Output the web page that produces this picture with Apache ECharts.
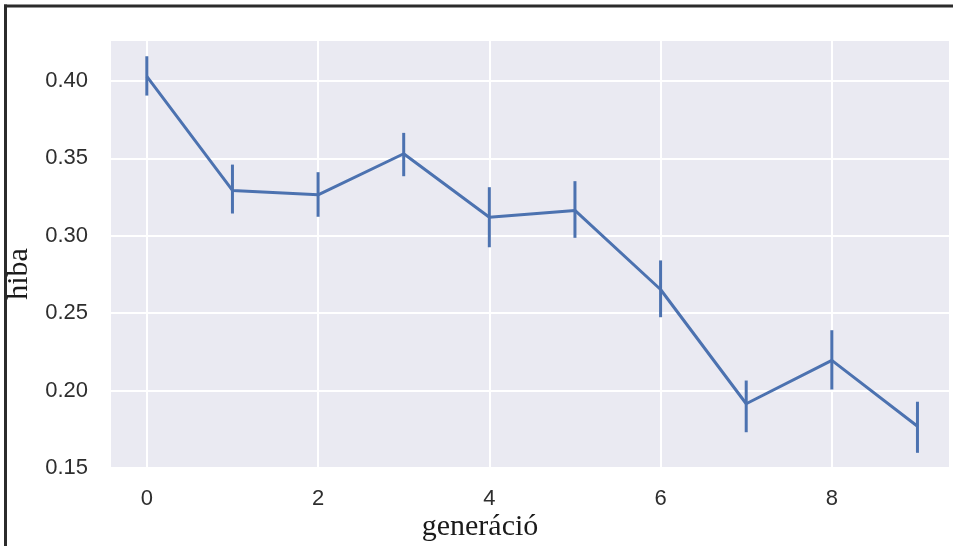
<!DOCTYPE html>
<html>
<head>
<meta charset="utf-8">
<script src="https://cdn.jsdelivr.net/npm/echarts@6/dist/echarts.min.js"></script>
<style>
html,body{margin:0;padding:0;background:#fff;}
#c{width:953px;height:546px;}
</style>
</head>
<body>
<div id="c"></div>
<script>
// Data
var generations = [0, 1, 2, 3, 4, 5, 6, 7, 8, 9];
var meanError  = [0.403, 0.3293, 0.3265, 0.353, 0.312, 0.3164, 0.2653, 0.1915, 0.2195, 0.177];
var lowerError = [0.3906, 0.3144, 0.3123, 0.3385, 0.2926, 0.2987, 0.2474, 0.1731, 0.2007, 0.1598];
var upperError = [0.416, 0.346, 0.3411, 0.3665, 0.3314, 0.3353, 0.2841, 0.2065, 0.2390, 0.1928];
var xAxisTitle = 'generáció';
var yAxisTitle = 'hiba';

var lineData = generations.map(function (g, i) { return [g, meanError[i]]; });
var errData = generations.map(function (g, i) { return [g, lowerError[i], upperError[i]]; });

var blue = '#4c72b0';
var chart = echarts.init(document.getElementById('c'));
chart.setOption({
  animation: false,
  backgroundColor: '#ffffff',
  grid: {
    left: 110, top: 40, right: 3, bottom: 76,
    show: true, backgroundColor: '#eaeaf2', borderWidth: 0,
    containLabel: false
  },
  xAxis: {
    type: 'value',
    min: -0.43, max: 9.38,
    splitNumber: 5,
    axisLine: { show: false },
    axisTick: { show: false },
    splitLine: { show: true, lineStyle: { color: '#ffffff', width: 2 } },
    axisLabel: {
      showMinLabel: false, showMaxLabel: false,
      margin: 18,
      fontFamily: 'Liberation Sans, Arial, sans-serif',
      fontSize: 22, color: '#2e2e2e',
      formatter: function (v) { return String(Math.round(v)); }
    }
  },
  yAxis: {
    type: 'value',
    min: 0.1487, max: 0.4265,
    splitNumber: 5,
    axisLine: { show: false },
    axisTick: { show: false },
    splitLine: { show: true, lineStyle: { color: '#ffffff', width: 2 } },
    axisLabel: {
      showMinLabel: false, showMaxLabel: false,
      margin: 22,
      fontFamily: 'Liberation Sans, Arial, sans-serif',
      fontSize: 22, color: '#2e2e2e',
      formatter: function (v) { return v.toFixed(2); }
    }
  },
  series: [
    {
      type: 'line',
      data: lineData,
      symbol: 'none',
      lineStyle: { color: blue, width: 3 },
      z: 3
    },
    {
      type: 'custom',
      data: errData,
      z: 4,
      renderItem: function (params, api) {
        var x = api.value(0);
        var p1 = api.coord([x, api.value(1)]);
        var p2 = api.coord([x, api.value(2)]);
        return {
          type: 'line',
          shape: { x1: p1[0], y1: p1[1], x2: p2[0], y2: p2[1] },
          style: { stroke: blue, lineWidth: 3 }
        };
      }
    }
  ],
  graphic: [
    { type: 'line', shape: { x1: 4, y1: 6, x2: 953, y2: 6 }, style: { stroke: '#2b2b2b', lineWidth: 3 }, z: 10 },
    { type: 'line', shape: { x1: 5.5, y1: 4.5, x2: 5.5, y2: 546 }, style: { stroke: '#2b2b2b', lineWidth: 3 }, z: 10 },
    {
      type: 'text', x: 480, y: 527,
      style: { text: xAxisTitle, fontFamily: 'Liberation Serif, Times New Roman, serif', fontSize: 30, fill: '#1a1a1a', align: 'center', verticalAlign: 'middle' }
    },
    {
      type: 'text', x: 19, y: 274, rotation: Math.PI / 2,
      style: { text: yAxisTitle, fontFamily: 'Liberation Serif, Times New Roman, serif', fontSize: 30, fill: '#1a1a1a', align: 'center', verticalAlign: 'middle' }
    }
  ]
});
</script>
</body>
</html>
